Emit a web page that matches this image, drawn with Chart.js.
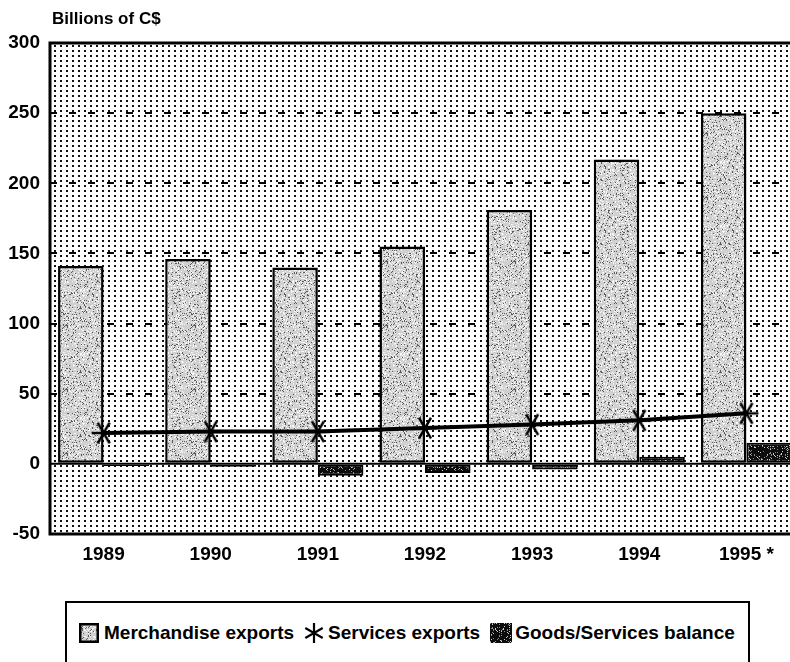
<!DOCTYPE html>
<html>
<head>
<meta charset="utf-8">
<script src="https://cdn.jsdelivr.net/npm/chart.js@4.4.1/dist/chart.umd.min.js"></script>
<style>
    html, body { margin: 0; padding: 0; background: #fff; overflow: hidden; width: 790px; height: 662px; }
    #wrap { position: relative; width: 790px; height: 662px; overflow: hidden; }
    #grafico { position: absolute; left: 0; top: 0; }
    #titulo { position: absolute; left: 52px; top: 9px; font: bold 17px Arial, 'Liberation Sans', sans-serif; color: #000; }
    #legenda { position: absolute; left: 65px; top: 601px; width: 681px; height: 90px; border: 2.5px solid #000; background: #fff; }
    #legenda .itens { position: absolute; left: 12px; top: 20px; height: 20px; display: flex; align-items: center;
        font: bold 19px Arial, 'Liberation Sans', sans-serif; color: #000; white-space: nowrap; }
    #legenda canvas { display: block; }
</style>
</head>
<body>
<div id="wrap">
    <canvas id="grafico" width="800" height="590"></canvas>
    <div id="titulo">Billions of C$</div>
    <div id="legenda">
        <div class="itens">
            <canvas id="icoMerc" width="20" height="20"></canvas>
            <span style="margin-left:5px">Merchandise exports</span>
            <canvas id="icoServ" width="22" height="22" style="margin-left:9px"></canvas>
            <span style="margin-left:3px">Services exports</span>
            <canvas id="icoSaldo" width="22" height="20" style="margin-left:10px"></canvas>
            <span style="margin-left:3px">Goods/Services balance</span>
        </div>
    </div>
</div>
<script>
(function () {
    // dados (bilhões de C$)
    const anos = ['1989', '1990', '1991', '1992', '1993', '1994', '1995 *'];
    const mercadorias = [141, 146, 140, 155, 181, 217, 250];
    const servicos = [22, 23, 23, 25.5, 28, 31, 36];
    const saldo = [-1.5, -2, -8.5, -6.5, -4, 5, 15];
    const ticksY = [-50, 0, 50, 100, 150, 200, 250, 300];

    // textura pontilhada do fundo
    function padraoPontos(ctx) {
        const c = document.createElement('canvas');
        c.width = 6; c.height = 5;
        const g = c.getContext('2d');
        g.fillStyle = '#fff';
        g.fillRect(0, 0, 6, 5);
        g.fillStyle = '#111';
        g.fillRect(0, 0, 2, 2);
        return ctx.createPattern(c, 'repeat');
    }

    // textura manchada (determinística) das barras
    function hash(x, y) {
        let h = (x * 374761393 + y * 668265263) | 0;
        h = (h ^ (h >>> 13)) * 1274126177 | 0;
        return ((h ^ (h >>> 16)) >>> 0) / 4294967295;
    }
    function padraoManchado(ctx, base, escuro, claro, pEsc, pClaro) {
        const c = document.createElement('canvas');
        c.width = 64; c.height = 64;
        const g = c.getContext('2d');
        g.fillStyle = base;
        g.fillRect(0, 0, 64, 64);
        for (let y = 0; y < 64; y++) {
            for (let x = 0; x < 64; x++) {
                const v = hash(x, y);
                if (v < pEsc) { g.fillStyle = escuro; g.fillRect(x, y, 1, 1); }
                else if (v > 1 - pClaro) { g.fillStyle = claro; g.fillRect(x, y, 1, 1); }
            }
        }
        return ctx.createPattern(c, 'repeat');
    }

    function desenhaAsterisco(g, cx, cy, r, lw) {
        g.strokeStyle = '#000';
        g.lineWidth = lw;
        g.beginPath();
        g.moveTo(cx, cy - r); g.lineTo(cx, cy + r);
        const d = r * 0.87, e = r * 0.5;
        g.moveTo(cx - d, cy - e); g.lineTo(cx + d, cy + e);
        g.moveTo(cx - d, cy + e); g.lineTo(cx + d, cy - e);
        g.stroke();
    }

    const marcador = document.createElement('canvas');
    marcador.width = 28; marcador.height = 28;
    (function () {
        const g = marcador.getContext('2d');
        g.translate(14, 14);
        g.rotate(Math.PI / 2);
        desenhaAsterisco(g, 0, 0, 12, 2.5);
    })();

    const canvas = document.getElementById('grafico');
    const ctx = canvas.getContext('2d');
    const fundo = padraoPontos(ctx);
    const cinzaManchado = padraoManchado(ctx, '#d0d0d0', '#5a5a5a', '#f8f8f8', 0.11, 0.2);
    const pretoManchado = padraoManchado(ctx, '#0c0c0c', '#8a8a8a', '#cfcfcf', 0.08, 0.06);

    // ícones da legenda
    (function () {
        let g = document.getElementById('icoMerc').getContext('2d');
        g.fillStyle = cinzaManchado; g.fillRect(0, 0, 20, 20);
        g.strokeStyle = '#000'; g.lineWidth = 2.5; g.strokeRect(1.25, 1.25, 17.5, 17.5);
        g = document.getElementById('icoServ').getContext('2d');
        desenhaAsterisco(g, 11, 11, 10, 2.2);
        g = document.getElementById('icoSaldo').getContext('2d');
        g.fillStyle = pretoManchado; g.fillRect(0, 0, 22, 20);
    })();

    const plugFundo = {
        id: 'fundo',
        beforeDraw(chart) {
            const a = chart.chartArea, c = chart.ctx;
            c.save();
            c.fillStyle = fundo;
            c.fillRect(a.left, a.top, a.right - a.left, a.bottom - a.top);
            c.restore();
        },
        afterDatasetsDraw(chart) {
            const a = chart.chartArea, c = chart.ctx;
            const y0 = chart.scales.y.getPixelForValue(0);
            c.save();
            c.strokeStyle = '#000';
            c.lineWidth = 2;
            c.beginPath();
            c.moveTo(a.left, y0); c.lineTo(a.right, y0);
            c.stroke();
            c.lineWidth = 3;
            c.beginPath();
            c.moveTo(a.right + 5, a.top); c.lineTo(a.left, a.top);
            c.lineTo(a.left, a.bottom); c.lineTo(a.right + 5, a.bottom);
            c.stroke();
            c.restore();
        }
    };

    Chart.defaults.font.family = 'Arial, "Liberation Sans", sans-serif';
    Chart.defaults.color = '#000';

    new Chart(canvas, {
        type: 'bar',
        data: {
            labels: anos,
            datasets: [{
                type: 'line',
                label: 'Services exports',
                data: servicos,
                borderColor: '#000',
                borderWidth: 4,
                pointStyle: marcador,
                tension: 0,
                clip: false,
                order: 0
            }, {
                label: 'Merchandise exports',
                data: mercadorias,
                backgroundColor: cinzaManchado,
                borderColor: '#000',
                borderWidth: 2.5,
                borderSkipped: false,
                categoryPercentage: 0.85,
                barPercentage: 1,
                order: 1
            }, {
                label: 'Goods/Services balance',
                data: saldo,
                backgroundColor: pretoManchado,
                borderColor: '#000',
                borderWidth: 2,
                borderSkipped: false,
                categoryPercentage: 0.85,
                barPercentage: 1,
                order: 1
            }]
        },
        options: {
            responsive: false,
            animation: false,
            layout: { autoPadding: false, padding: { top: 43, left: 0, right: 0, bottom: 0 } },
            plugins: {
                legend: { display: false },
                title: { display: false },
                tooltip: { enabled: false }
            },
            scales: {
                x: {
                    offset: true,
                    afterFit(s) { s.height = 56; s.paddingLeft = 0; s.paddingRight = 0; },
                    grid: { display: false, drawTicks: false },
                    border: { display: false },
                    ticks: { padding: 9, font: { size: 19, weight: 'bold' }, maxRotation: 0 }
                },
                y: {
                    min: -50,
                    max: 300,
                    afterFit(s) { s.width = 50; s.paddingTop = 0; s.paddingBottom = 0; },
                    afterBuildTicks(s) { s.ticks = ticksY.map(v => ({ value: v })); },
                    grid: {
                        drawTicks: false,
                        color: c => (c.tick && [50, 100, 150, 200, 250].includes(c.tick.value)) ? '#000' : 'rgba(0,0,0,0)',
                        lineWidth: 2
                    },
                    border: { display: false, dash: [7, 12] },
                    ticks: { padding: 10, font: { size: 19, weight: 'bold' } }
                }
            }
        },
        plugins: [plugFundo]
    });
})();
</script>
</body>
</html>
